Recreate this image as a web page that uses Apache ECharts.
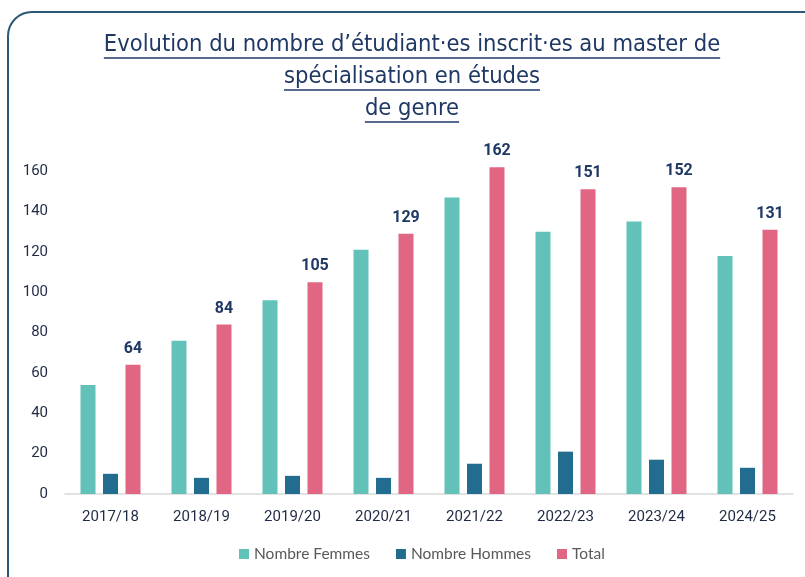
<!DOCTYPE html>
<html>
<head>
<meta charset="utf-8">
<script src="https://cdn.jsdelivr.net/npm/echarts@6/dist/echarts.min.js"></script>
<style>
  html, body { margin: 0; padding: 0; background: #fff; }
  #chart { width: 805px; height: 577px; }
</style>
</head>
<body>
<div id="chart"></div>
<script>
const years = ['2017/18', '2018/19', '2019/20', '2020/21', '2021/22', '2022/23', '2023/24', '2024/25']
const femmes = [54, 76, 96, 121, 147, 130, 135, 118]
const hommes = [10, 8, 9, 8, 15, 21, 17, 13]
const total = [64, 84, 105, 129, 162, 151, 152, 131]
const titleLines = [
  'Evolution du nombre d\u2019étudiant·es inscrit·es au master de',
  'spécialisation en études',
  'de genre'
]

const titleFont = '23.5px "Liberation Sans Narrow", "DejaVu Sans Condensed", Roboto, sans-serif'
const titleColor = '#1F3864'
const centerX = 412
const lineY = [45, 77, 109]

// underline under each title line, measured from the text itself
const ctx = document.createElement('canvas').getContext('2d')
ctx.font = titleFont
const underlines = titleLines.map((t, i) => {
  const w = ctx.measureText(t).width
  return {
    type: 'line',
    shape: {x1: centerX - w / 2, y1: lineY[i] + 13, x2: centerX + w / 2, y2: lineY[i] + 13},
    style: {stroke: titleColor, lineWidth: 1.3}
  }
})

const chart = echarts.init(document.getElementById('chart'))
chart.setOption({
  animation: false,
  graphic: [
    {
      type: 'rect',
      shape: {x: 8, y: 12, width: 830, height: 620, r: 24},
      style: {fill: 'none', stroke: '#2B5877', lineWidth: 2}
    },
    ...titleLines.map((t, i) => ({
      type: 'text',
      x: centerX,
      y: lineY[i],
      style: {
        text: t,
        font: titleFont,
        fill: titleColor,
        align: 'center',
        verticalAlign: 'middle'
      }
    })),
    ...underlines
  ],
  legend: {
    bottom: 10,
    left: 234,
    itemWidth: 10,
    itemHeight: 10,
    itemGap: 26,
    icon: 'rect',
    textStyle: {fontSize: 15.5, color: '#595959', fontFamily: 'Lato, Roboto, sans-serif'},
    data: ['Nombre Femmes', 'Nombre Hommes', 'Total']
  },
  grid: {
    left: 65,
    right: 12,
    top: 151,
    bottom: 83,
    containLabel: false
  },
  xAxis: {
    type: 'category',
    data: years,
    axisLine: {lineStyle: {color: '#D9D9D9', width: 1.5}},
    axisTick: {show: false},
    axisLabel: {fontSize: 15, color: '#1F2A44', margin: 16, fontFamily: 'Roboto, sans-serif'}
  },
  yAxis: {
    type: 'value',
    min: 0,
    max: 170,
    interval: 20,
    splitLine: {show: false},
    axisLine: {show: false},
    axisTick: {show: false},
    axisLabel: {
      fontSize: 15,
      color: '#1F2A44',
      margin: 17,
      fontFamily: 'Roboto, sans-serif',
      formatter: v => (v % 20 === 0 ? v : '')
    }
  },
  series: [
    {
      name: 'Nombre Femmes',
      type: 'bar',
      data: femmes,
      barWidth: 15,
      barGap: '50%',
      itemStyle: {color: '#62C2BA'}
    },
    {
      name: 'Nombre Hommes',
      type: 'bar',
      data: hommes,
      barWidth: 15,
      barGap: '50%',
      itemStyle: {color: '#216C8F'}
    },
    {
      name: 'Total',
      type: 'bar',
      data: total,
      barWidth: 15,
      barGap: '50%',
      itemStyle: {color: '#E06683'},
      label: {
        show: true,
        position: 'top',
        distance: 8,
        fontSize: 16,
        fontWeight: 'bold',
        color: '#1F3864',
        fontFamily: 'Roboto, sans-serif'
      }
    }
  ]
})
</script>
</body>
</html>
